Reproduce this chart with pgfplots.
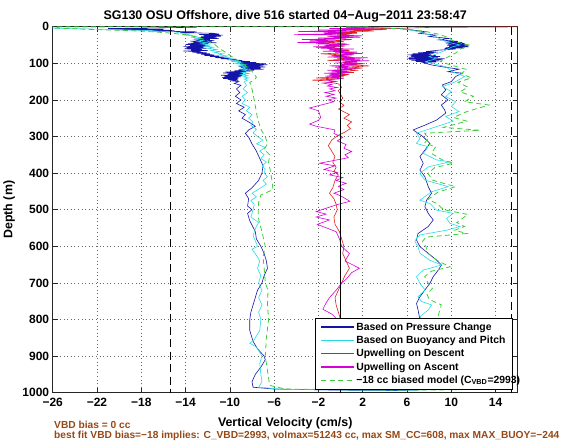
\documentclass[border=0pt]{standalone}
\usepackage{pgfplots}
\pgfplotsset{compat=1.18}
\usepackage{fontspec}
\setmainfont{Liberation Sans}
\definecolor{cBlue}{RGB}{20,20,170}
\definecolor{cCyan}{RGB}{40,220,230}
\definecolor{cRed}{RGB}{225,30,30}
\definecolor{cMag}{RGB}{215,0,215}
\definecolor{cGreen}{RGB}{60,205,60}
\definecolor{brn}{RGB}{150,72,22}
\begin{document}
\begin{tikzpicture}
\useasboundingbox (0,0) rectangle (570pt,440pt);
\begin{axis}[
 at={(52.7pt,47.3pt)}, anchor=south west,
 width=465pt, height=366pt, scale only axis,
 xmin=-26, xmax=16, ymin=0, ymax=1000, y dir=reverse,
 xtick={-26,-22,-18,-14,-10,-6,-2,2,6,10,14},
 xticklabels={−26,−22,−18,−14,−10,−6,−2,2,6,10,14},
 ytick={0,100,200,300,400,500,600,700,800,900,1000},
 yticklabels={0,100,200,300,400,500,600,700,800,900,1000},
 tick align=inside, tick pos=both, major tick length=5pt,
 grid=major, major grid style={black!60, dash pattern=on 0.8pt off 2.8pt, line width=0.5pt},
 axis line style={black!85, line width=0.8pt},
 tick style={black!85, line width=0.6pt},
 ticklabel style={font=\fontsize{12}{14}\selectfont\bfseries},
 xticklabel style={yshift=-2pt},
 legend style={at={(0.988,0.01)}, anchor=south east, draw=black, fill=white,
   font=\fontsize{10.4}{12}\selectfont\bfseries, row sep=1.3pt, inner xsep=5pt, inner ysep=2.5pt,
   nodes={inner sep=1.5pt}},
 legend cell align=left,
 legend image code/.code={\draw[#1] (0pt,0pt) -- (33pt,0pt);},
]
% Based on Pressure Change
\addplot[color=cBlue, line width=0.6pt, forget plot] coordinates {
(-13,1.5) (-21,5) (-16,7) (-20.5,8) (-15,10) (-17,12) (-13,14) (-14.5,16) (-11.5,18)
(-11,20) (-12.8,21.5) (-10.6,23) (-12.4,24.5) (-10.8,26) (-12.6,27.5) (-11.2,29) (-12.9,30.5) (-11.0,32) (-13.2,33.5) (-11.8,35) (-13.0,36.5) (-11.4,38) (-13.6,39.5) (-11.6,41) (-13.3,42.5) (-11.2,44) (-13.8,45.5) (-12.0,47) (-14.0,48.5) (-12.2,50) (-13.6,51.5) (-11.8,53) (-14.2,54.5) (-12.4,56) (-13.9,57.5) (-12.1,59) (-14.1,60.5) (-12.5,62) (-13.5,63.5) (-12.0,65) (-14.2,66.5) (-12.6,68) (-13.4,69.5) (-12.1,71) (-13.0,72.5) (-11.8,74) (-12.6,75.5) (-11.4,77) (-12.3,78.5) (-11.0,80) (-11.8,81.5) (-10.5,83) (-11.3,84.5) (-10.0,86) (-10.8,87.5) (-9.4,89) (-10.2,90.5) (-8.9,92) (-9.6,93.5) (-8.2,95) (-9.0,96.5) (-7.6,98) (-9.2,99.5) (-6.8,101) (-9.0,102.5) (-6.6,104) (-8.9,105.5) (-7.0,107) (-9.2,108.5) (-6.8,110) (-9.0,111.5) (-7.2,113) (-8.8,114.5) (-6.9,116) (-9.2,117.5) (-7.8,119) (-9.6,120.5) (-8.2,122) (-10.4,123.5) (-8.6,125) (-10.6,126.5) (-8.8,128) (-10.2,129.5) (-8.6,131) (-10.8,132.5) (-8.9,134) (-10.5,135.5) (-9.0,137) (-10.7,138.5) (-9.2,140) (-10.6,141.5) (-9.3,143) (-10.2,144.5) (-9.2,146) (-9.8,148) (-9.2,150)
(-9.6,155) (-9.0,160) (-9.4,170) (-9.1,180) (-9.5,190) (-9.0,200) (-9.4,210) (-8.7,220) (-9.2,230) (-8.6,240) (-8.9,250) (-8.2,262) (-7.7,272) (-8.3,282) (-8.6,292) (-8.3,302) (-8.0,320) (-7.6,340) (-7.3,360) (-7.0,380) (-7.1,400) (-7.4,420) (-8.0,440) (-8.6,455) (-8.3,470) (-8.4,490) (-8.0,500) (-8.4,510) (-8.2,530) (-7.7,560) (-7.6,580) (-7.2,600) (-6.9,620) (-6.7,640) (-6.6,660) (-6.9,680) (-7.1,700) (-7.5,720) (-7.8,750) (-8.1,780) (-8.2,800) (-8.2,830) (-7.9,860) (-7.5,880) (-6.9,900) (-6.8,910) (-7.2,930) (-7.7,950) (-8.0,970) (-7.9,985) (-6,990)
(0,993) (5,994) (7.5,992)
(7.2,985) (7.5,950) (7.0,900) (7.6,850) (7.2,820) (7.17,800) (7.0,774) (6.86,756) (7.17,738) (7.62,719) (8.07,701) (8.37,683) (8.82,665) (9.12,651) (8.67,638) (7.92,619) (7.17,601) (6.86,583) (7.0,565) (7.92,546) (8.37,528) (7.92,510) (7.62,492) (7.77,474) (8.22,455) (7.92,437) (7.62,410) (7.17,392) (7.47,373) (7.17,355) (7.62,337) (8.07,319) (7.47,301) (6.56,282) (7.62,269) (8.67,255) (9.5,236) (9.4,227) (9.1,214) (9.7,200) (9.1,186) (9.5,173) (9.2,159) (10.0,150)
(10.4,136) (11.0,127) (9.7,123) (10.7,116) (9.5,111) (8.3,105) (7.4,98) (8.6,96.5) (6.8,95) (8.9,93.5) (6.4,92) (9.2,90.5) (6.2,89) (9.4,87.5) (6.0,86) (8.8,84.5) (6.2,83) (9.0,81.5) (6.4,80) (8.6,78.5) (6.0,77) (8.2,75.5) (6.5,74) (8.4,72.5) (7.0,71) (8.8,69.5) (7.7,68) (8.9,64) (10.4,61) (9.4,59.5) (11.2,58) (9.5,56.5) (11.6,55) (9.8,53.5) (11.5,52) (9.6,50.5) (11.4,49) (9.7,47.5) (11.2,46) (9.5,44.5) (11.0,43) (9.6,41.5) (10.6,40) (8.9,36) (9.8,32) (8.0,27) (8.6,23) (7.1,18) (7.7,14) (6.5,9) (5.3,5) (2,2) (0.5,1)
};
% Based on Buoyancy and Pitch
\addplot[color=cCyan, line width=0.6pt, forget plot] coordinates {
(-26,4) (-23,6) (-20,8) (-18,10) (-16.5,12) (-15,14) (-14.5,17) (-13.6,20) (-14,23) (-13,26) (-13.4,29) (-12.6,32) (-13.2,35) (-12.4,38) (-12.9,41) (-12.0,44) (-12.6,47) (-11.8,50) (-12.3,53) (-11.5,56) (-12.0,59) (-11.2,62) (-11.7,65) (-10.9,68) (-11.4,71) (-10.6,74) (-11.0,77) (-10.2,80) (-10.6,83) (-9.8,86) (-10.2,89) (-9.4,92) (-9.8,95) (-9.0,98) (-9.5,101) (-8.6,104) (-9.2,107) (-8.4,110) (-9.0,113) (-8.3,116) (-8.8,119) (-8.2,122) (-8.9,125) (-8.3,128) (-9.0,131) (-8.4,134) (-8.8,137) (-8.3,140) (-8.7,143) (-8.4,146) (-8.7,150)
(-8.5,160) (-8.8,170) (-8.4,180) (-8.9,190) (-8.6,200) (-8.9,210) (-8.2,220) (-8.5,230) (-8.0,240) (-8.3,250) (-7.9,260) (-8.1,270) (-7.6,280) (-7.9,290) (-7.5,300) (-7.0,310) (-7.6,320) (-6.8,330) (-7.3,340) (-6.9,350) (-7.2,360) (-6.7,370) (-7.1,380) (-6.8,390) (-6.9,400) (-6.6,410) (-7.0,420) (-6.7,430) (-7.2,440) (-8.0,455) (-7.6,465) (-8.1,475) (-7.8,485) (-7.9,500) (-8.1,520) (-7.4,535) (-7.6,545) (-7.9,570) (-7.5,600) (-8.0,608) (-7.7,620) (-7.3,640) (-7.5,660) (-7.2,680) (-7.4,700) (-7.1,720) (-7.4,740) (-7.1,760) (-7.4,780) (-7.2,800) (-7.3,830) (-7.8,855) (-8.2,865) (-7.6,875) (-7.4,885) (-7.1,900) (-7.3,920) (-7.2,950) (-7.1,970) (-7.4,985) (-5,991)
(2,993) (7,993)
(7.3,988) (7.8,960) (7.3,930) (7.9,900) (7.4,860) (7.7,820) (7.17,792) (7.92,774) (8.22,760) (7.32,751) (7.0,738) (7.62,719) (7.17,701) (6.86,683) (7.47,665) (9.12,651) (8.07,638) (7.17,619) (7.0,601) (6.71,587) (6.86,578) (7.17,569) (9.57,556) (10.78,546) (9.87,537) (9.57,524) (10.17,510) (8.67,501) (8.07,483) (7.17,474) (8.22,451) (9.72,437) (8.67,428) (7.62,419) (7.17,401) (7.92,383) (9.87,369) (8.67,364) (7.47,346) (7.92,328) (6.86,319) (7.17,305) (6.86,291) (8.67,273) (10.17,258) (9.5,245) (10.7,232) (10.0,218) (10.4,205) (9.5,191) (10.0,177) (9.2,164) (10.4,150) (11.2,136) (10.1,123) (9.5,109) (8.2,100) (7.7,95) (8.6,88) (8.0,82) (9.2,68) (10.1,55) (10.8,50) (9.5,41) (8.6,27) (7.1,14) (5.6,5) (3,2) (1,0.8)
};
% Upwelling on Descent
\addplot[color=cRed, line width=0.6pt, forget plot] coordinates {
(16,0.5) (8,2) (5.5,4) (2,6) (4,8) (1,10) (3,12) (-0.5,14) (1.5,16) (-1,18) (0.8,20) (-0.3,22) (1.2,24) (-1.2,26) (0.5,29) (-0.8,32) (1.0,35) (-0.5,38) (0.3,41) (-1.5,44) (0.6,47) (-0.9,50) (0.4,53) (-2.2,56) (0.2,59) (-1.0,62) (0.8,65) (-0.4,68) (1.2,71) (-1.8,74) (0.2,77) (-0.8,80) (1.0,83) (-0.3,86) (0.6,89) (-1.2,92) (1.5,95) (0.2,98) (2.2,101) (0.6,104) (2.6,107) (0.8,110) (2.0,113) (0.3,116) (1.6,119) (0,122) (1.2,125) (-0.5,128) (0.8,131) (-1.0,134) (0.3,137) (-2.2,140) (-0.2,143) (-2.6,146) (-0.5,149) (-1.0,152) (-0.2,156) (0.1,165) (-0.2,175) (0.0,185) (0.2,195) (-0.1,205) (0.3,215) (-0.2,225) (0.8,240) (0.3,250) (1.0,260) (0.6,270) (0.9,278) (0.4,288) (-0.3,298) (-0.8,310) (-1.1,325) (-0.8,340) (-0.5,355) (-0.7,370) (-0.4,385) (-0.6,395) (-0.2,405) (-0.5,420) (-0.7,440) (-1.0,455) (-0.6,470) (-0.4,485) (-0.3,500) (-0.6,520) (-0.5,540) (-0.1,560) (0.1,580) (0.3,600) (0.2,620) (0.5,640) (0.8,660) (0.4,680) (0.1,700) (-0.2,720) (-0.5,740) (-0.4,760) (-0.2,780) (0,800) (0.2,850) (-0.1,900) (0.1,950) (0,990)
};
% Upwelling on Ascent
\addplot[color=cMag, line width=0.6pt, forget plot] coordinates {
(0.5,1) (3,3) (-1,5) (4.2,7) (-2,9) (1,11) (-3.8,13) (0.5,15) (-1.5,17) (1.5,19) (-4.2,21) (0,23) (2,25) (-1,27) (1.8,29) (-2,31) (0.5,33) (-3.5,35) (-0.5,37) (-2.8,39) (0,41) (-3.9,43) (-1,45) (-2.2,47) (0.8,49) (-1.5,51) (0.3,53) (-2.5,55) (-0.5,57) (-1.8,59) (1.2,61) (-1,63) (0.5,65) (-1.6,67) (1.5,69) (-0.5,71) (2,73) (0,75) (1.2,77) (-0.8,79) (0.8,81) (-1.2,83) (2.5,85) (0.2,87) (1.8,89) (-0.6,91) (2.6,93) (0.4,95) (1.5,97) (-0.5,99) (2,101) (0,103) (1.4,105) (-1,107) (0.8,109) (-0.5,111) (1.6,113) (-0.3,115) (0.9,117) (-1.2,119) (0.6,121) (-0.8,123) (0.8,125) (-1.5,127) (0.2,129) (-1,131) (0.5,133) (-1.4,135) (0,137) (-0.9,139) (0.3,141) (-0.6,143) (-1.2,146) (-0.4,150) (-1.6,154) (-0.8,158) (-1.2,162) (-0.3,166) (-1,170) (-0.5,175) (-1.4,180) (-0.6,185) (-1.3,190) (-0.4,195) (-1.1,200) (-0.6,205) (-1.5,212) (-2.8,222) (-2.0,230) (-1.9,238) (-1.8,248) (-2.0,256) (-2.8,266) (-2.2,272) (-0.5,282) (-0.6,292) (0.2,302) (-0.3,312) (0.5,322) (0.3,332) (1.0,341) (0.4,350) (0.7,358) (-1.9,373) (-0.5,380) (-1.5,390) (-0.3,398) (-1.0,405) (0.2,412) (-0.4,420) (0.5,428) (-0.2,436) (0.3,445) (-0.6,455) (0.0,462) (0.85,477) (-0.3,486) (-2.2,505) (-1.3,512) (-2.2,520) (-1.0,528) (-2.1,540) (-0.4,560) (-0.1,580) (0.1,600) (0.8,620) (0.4,640) (1.7,660) (1.0,672) (0.5,690) (0.1,700) (-0.4,720) (-1.0,740) (-1.4,760) (-1.6,772) (-0.8,785) (-0.3,800) (-0.6,850) (-0.2,900) (-0.5,950) (0,990)
};
% -18 cc biased model
\addplot[color=cGreen, line width=0.8pt, dash pattern=on 5pt off 3.5pt, forget plot] coordinates {
(2.5,0) (-27,0.5) (-25.5,4) (-22,8) (-18,12) (-15.5,17) (-14,22) (-13,28) (-12.3,35) (-11.8,42) (-11.3,50) (-11,58) (-10.6,66) (-10.2,74) (-9.8,82) (-9.4,90) (-9,98) (-8.6,106) (-8.3,114) (-8,122) (-7.8,130) (-7.6,138) (-7.8,146) (-8.2,152) (-8.0,170) (-7.8,200) (-7.5,250) (-7.2,280) (-6.8,300) (-6.6,320) (-6.9,335) (-6.4,350) (-6.5,370) (-6.3,400) (-6.2,420) (-6.1,445) (-7.2,460) (-7.4,480) (-7.45,520) (-7.1,560) (-6.8,600) (-7.0,630) (-6.9,660) (-6.8,700) (-6.55,720) (-6.6,760) (-6.5,800) (-6.7,850) (-6.8,900) (-6.6,940) (-6.5,960) (-6.4,980) (-5,990)
(5,993) (10.5,992)
(9,988) (8.5,950) (8.8,900) (8.2,850) (8.6,800) (8.8,792) (9.1,760) (8.0,745) (7.8,730) (8.3,715) (7.9,700) (7.6,683) (8.2,668) (9.9,656) (8.8,640) (7.9,620) (7.7,600) (7.4,587) (7.7,575) (11.4,565) (10.3,556) (11.2,546) (10.5,535) (11.5,513) (9.3,500) (8.7,483) (7.9,472) (8.8,452) (10.4,437) (9.3,428) (8.3,419) (7.9,401) (8.5,385) (10.2,373) (9.2,364) (8.2,346) (8.6,328) (7.6,318) (7.9,305) (7.6,291) (12.6,283) (9.3,275) (11.4,258) (10.2,248) (11.4,232) (13.4,214) (11.2,205) (12.0,190) (10.8,178) (11.5,165) (10.6,152) (11.8,140) (10.9,128) (11.4,117) (10.0,105) (9.0,95) (9.6,84) (10.4,72) (10.9,60) (11.6,50) (10.2,40) (9.8,30) (8.8,20) (7.5,12) (5.5,6) (3,2) (1,0.5)
};
\addplot[black, line width=1.1pt, dash pattern=on 8pt off 4.5pt, forget plot] coordinates {(-15.4,0) (-15.4,1000)};
\addplot[black, line width=1.1pt, dash pattern=on 8pt off 4.5pt, forget plot] coordinates {(15.4,0) (15.4,1000)};
\addplot[black, line width=0.8pt, forget plot] coordinates {(0,0) (0,1000)};
\addlegendimage{draw=cBlue, line width=1.2pt}
\addlegendentry{Based on Pressure Change}
\addlegendimage{draw=cCyan, line width=1.2pt}
\addlegendentry{Based on Buoyancy and Pitch}
\addlegendimage{draw=cRed, line width=1.2pt}
\addlegendentry{Upwelling on Descent}
\addlegendimage{draw=cMag, line width=1.2pt}
\addlegendentry{Upwelling on Ascent}
\addlegendimage{draw=cGreen, line width=1.2pt, dash pattern=on 5pt off 3.5pt}
\addlegendentry{\makebox[149pt][l]{−18 cc biased model (C\textsubscript{VBD}=2993)}}
\end{axis}
\node[anchor=base, font=\fontsize{12.5}{14}\selectfont\bfseries] at (285.2pt,420.5pt) {SG130 OSU Offshore, dive 516 started 04−Aug−2011 23:58:47};
\node[anchor=base, font=\fontsize{12.4}{14}\selectfont\bfseries] at (285.2pt,14pt) {Vertical Velocity (cm/s)};
\node[anchor=base, rotate=90, font=\fontsize{12.4}{14}\selectfont\bfseries] at (12.4pt,230.3pt) {Depth (m)};
\node[anchor=base west, inner sep=0pt, text=brn, font=\fontsize{10.2}{12}\selectfont\bfseries] at (54pt,12pt) {VBD bias = 0 cc};
\node[anchor=base west, inner sep=0pt, text=brn, font=\fontsize{10.2}{12}\selectfont\bfseries] at (54pt,1.8pt) {best fit VBD bias=−18 implies: C\_VBD=2993, volmax=51243 cc, max SM\_CC=608, max MAX\_BUOY=−244};
\end{tikzpicture}
\end{document}
